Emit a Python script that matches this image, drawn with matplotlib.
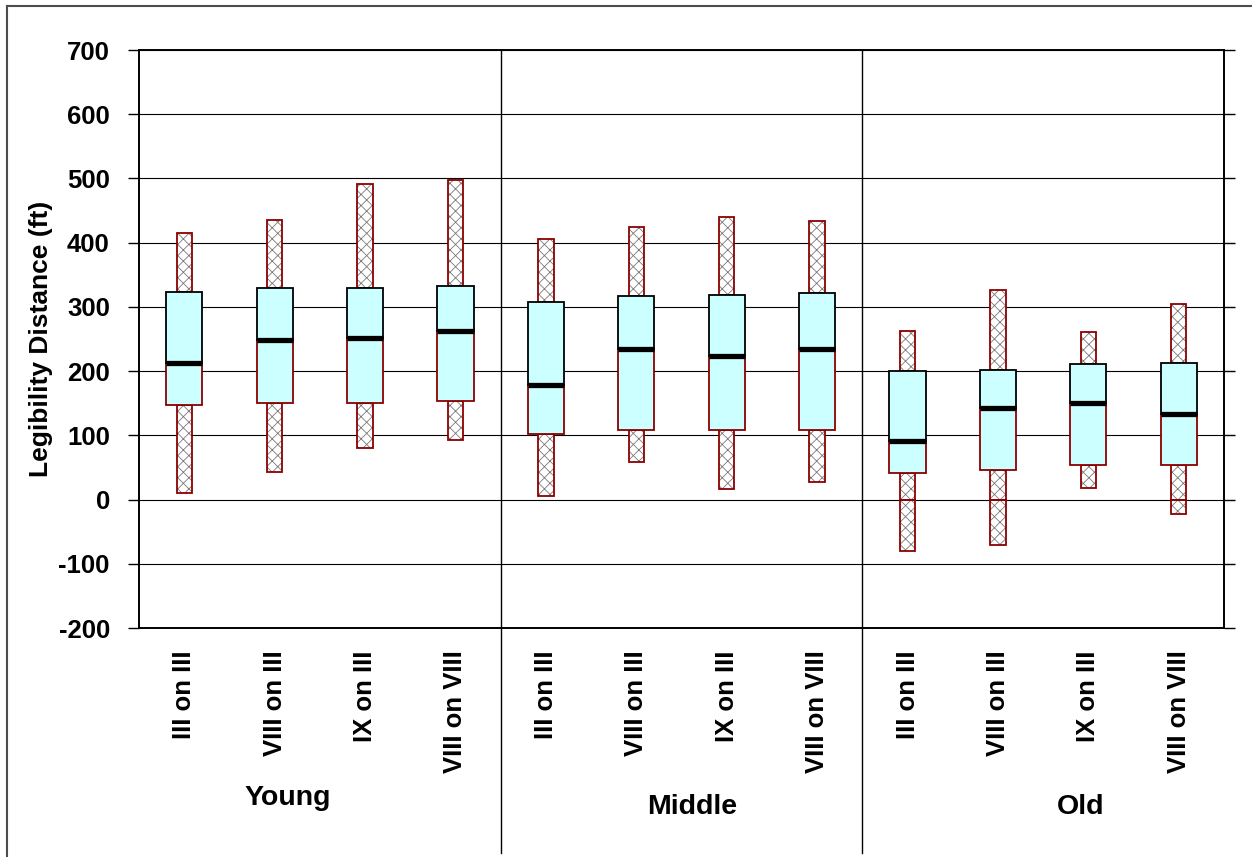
import matplotlib
matplotlib.use("Agg")
import matplotlib.pyplot as plt
import matplotlib.transforms as mtransforms
from matplotlib.lines import Line2D
import numpy as np

# ---- data -------------------------------------------------------------
groups = ["Young", "Middle", "Old"]
conditions = ["III on III", "VIII on III", "IX on III", "VIII on VIII"]
tick_labels = conditions * len(groups)

low = [10, 43, 81, 93, 5, 58, 16, 28, -80, -70, 18, -23]
q1 = [148, 151, 151, 153, 102, 108, 108, 109, 42, 46, 54, 54]
median = [213, 248, 252, 262, 179, 234, 223, 235, 91, 142, 150, 133]
q3 = [323, 330, 330, 332, 308, 317, 318, 322, 200, 202, 211, 213]
high = [415, 436, 492, 497, 405, 424, 440, 433, 262, 326, 261, 305]

yticks = [-200, -100, 0, 100, 200, 300, 400, 500, 600, 700]

# ---- style ------------------------------------------------------------
FONT = "Liberation Sans"
plt.rcParams["font.family"] = [FONT, "DejaVu Sans"]
plt.rcParams["hatch.linewidth"] = 0.6
BOX_FILL = "#CCFFFF"
DARK_RED = "#8B0000"
HATCH_GREY = "#7a7a7a"

W, H = 1252, 857
fig = plt.figure(figsize=(W / 100, H / 100), dpi=100)
ax = fig.add_axes([139 / W, 1 - 628 / H, (1224 - 139) / W, (628 - 50) / H])

x = np.arange(len(tick_labels))
box_w = 0.40
wh_w = 0.17

lo = np.array(low, float)
a1 = np.array(q1, float)
md = np.array(median, float)
a3 = np.array(q3, float)
hi = np.array(high, float)


def hatched(xpos, bottom, height, edge):
    # patterned fill first, then a clean outline on top
    ax.bar(xpos, height, bottom=bottom, width=wh_w, color="white",
           edgecolor=HATCH_GREY, hatch="xxx", linewidth=0, zorder=2)
    ax.bar(xpos, height, bottom=bottom, width=wh_w, color="none",
           edgecolor=edge, linewidth=1.3, zorder=3)


# upper whiskers
hatched(x, a3, hi - a3, DARK_RED)
# lower whiskers, split where they cross zero
pos_bottom = np.maximum(lo, 0)
hatched(x, pos_bottom, a1 - pos_bottom, DARK_RED)
neg = lo < 0
hatched(x[neg], lo[neg], -lo[neg], DARK_RED)

# boxes: lower half outlined dark red, upper half outlined black
ax.bar(x, md - a1, bottom=a1, width=box_w, color=BOX_FILL,
       edgecolor=DARK_RED, linewidth=1.3, zorder=4)
ax.bar(x, a3 - md, bottom=md, width=box_w, color=BOX_FILL,
       edgecolor="black", linewidth=1.3, zorder=4)
# medians
ax.hlines(md, x - box_w / 2, x + box_w / 2, colors="black",
          linewidth=3.8, zorder=5)

# ---- axes -------------------------------------------------------------
ax.set_xlim(-0.5, len(tick_labels) - 0.5)
ax.set_ylim(-200, 700)
ax.set_yticks(yticks)
ax.set_yticklabels([str(v) for v in yticks], fontsize=18.5,
                   fontweight="bold")
ax.yaxis.grid(True, color="black", linewidth=0.8)
ax.set_axisbelow(True)
ax.tick_params(axis="y", direction="out", length=8, width=1.0,
               pad=13, right=True, labelright=False)
ax.set_xticks(x)
ax.set_xticklabels(tick_labels, rotation=90, fontsize=18.5,
                   fontweight="bold", va="top", ha="center")
ax.tick_params(axis="x", length=0, pad=16)
for s in ax.spines.values():
    s.set_linewidth(1.4)
    s.set_color("black")

# group separators running from the top of the plot down past the labels
trans = mtransforms.blended_transform_factory(ax.transData, ax.transAxes)
for b in range(1, len(groups)):
    xb = b * len(conditions) - 0.5
    ax.add_line(Line2D([xb, xb], [1, -0.39], transform=trans,
                       color="black", linewidth=1.0, clip_on=False,
                       zorder=1))

# group names
group_pos = [(287.5 / W, 1 - 805 / H), (692 / W, 1 - 814 / H),
             (1080.5 / W, 1 - 814 / H)]
for name, (gx, gy) in zip(groups, group_pos):
    fig.text(gx, gy, name, ha="center", va="baseline", fontsize=20.5,
             fontweight="bold")

fig.text(41 / W, 1 - 339 / H, "Legibility Distance (ft)", rotation=90,
         ha="center", va="center", fontsize=19, fontweight="bold")

# outer frame
fig.add_artist(Line2D([7 / W, 7 / W], [1 - 6 / H, 0], transform=fig.transFigure,
                      color="#4d4d4d", linewidth=1.5))
fig.add_artist(Line2D([7 / W, 1], [1 - 6 / H, 1 - 6 / H],
                      transform=fig.transFigure, color="#4d4d4d",
                      linewidth=1.5))

fig.savefig("out.png", dpi=100, facecolor="white")
